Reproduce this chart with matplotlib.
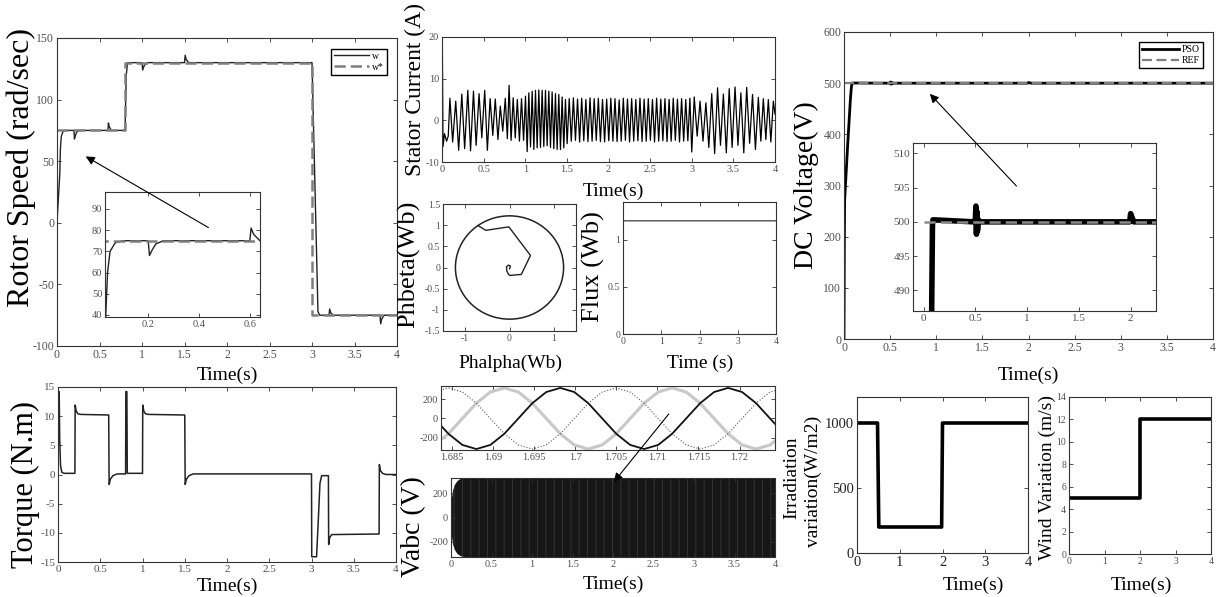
import matplotlib
matplotlib.use("Agg")
import matplotlib.pyplot as plt
import numpy as np
from matplotlib.patches import Circle
from matplotlib.ticker import FuncFormatter

plt.rcParams['font.family'] = ['Liberation Serif', 'DejaVu Serif']
plt.rcParams['hatch.linewidth'] = 0.7

# ---- rotor speed (rad/s) ----
spd_t = [0.000, 0.033, 0.040, 0.050, 0.070, 0.100, 0.200, 0.205, 0.215, 0.230, 0.260,
         0.600, 0.605, 0.615, 0.640, 0.800, 0.815, 0.830, 1.000, 1.008, 1.025, 1.060,
         1.500, 1.508, 1.520, 1.550, 3.000, 3.070, 3.090, 3.200, 3.208, 3.220, 3.250,
         3.800, 3.808, 3.820, 3.850, 4.000]
spd_w = [0, 40, 60, 70, 74, 75, 75, 68, 70.5, 73.5, 75,
         75, 81, 78, 75, 75, 120, 130, 130, 124, 127.5, 130,
         130, 136, 132.5, 130, 130, -72, -75, -75, -70, -73, -75,
         -75, -82, -78, -75, -75]
ref_t = [0, 0.8, 0.8, 3.0, 3.0, 4.0]
ref_w = [75, 75, 130, 130, -75, -75]

# ---- stator current (A), extrema read per time region ----
curA_t = [0.000, 0.004, 0.012, 0.030, 0.055, 0.075]
curA_i = [0.0, 19.0, -6.3, -3.2, -5.0, -3.8]
curB_t = [0.095, 0.128, 0.165, 0.200, 0.238, 0.272, 0.310, 0.343, 0.378, 0.410,
          0.445, 0.478, 0.513, 0.545, 0.578]
curB_i = [5.3, -5.2, 4.6, -7.2, 6.3, -6.8, 7.2, -7.3, 7.0, -6.0,
          6.4, -4.2, 7.2, -7.2, 5.2]
curC_t = [0.610, 0.640, 0.672, 0.700, 0.730, 0.760, 0.785, 0.806, 0.830, 0.855,
          0.880, 0.905, 0.930, 0.955, 0.980]
curC_i = [-3.6, 5.1, -4.6, 3.4, -2.6, 5.3, -4.4, 8.4, -4.8, 5.4,
          -4.2, 5.0, -5.0, 5.2, -4.8]
curD_t = [1.003, 1.023, 1.043, 1.063, 1.083, 1.103, 1.123, 1.143, 1.163, 1.183,
          1.203, 1.223, 1.243, 1.263, 1.283, 1.303, 1.323, 1.343, 1.363, 1.383,
          1.403, 1.423, 1.443, 1.463, 1.483, 1.503]
curD_i = [5.8, -7.5, 6.6, -6.4, 7.0, -7.0, 7.2, -6.6, 7.3, -6.5,
          7.2, -6.3, 7.2, -6.1, 7.0, -6.5, 6.8, -6.8, 6.4, -7.0,
          6.2, -7.0, 5.6, -6.6, 5.0, -5.6]
curE_t = [1.528, 1.553, 1.578, 1.603, 1.628, 1.653, 1.678, 1.703, 1.728, 1.753,
          1.778, 1.803, 1.828, 1.853, 1.878, 1.903, 1.928, 1.953, 1.978, 2.003,
          2.028, 2.053, 2.078, 2.103, 2.128, 2.153, 2.178, 2.203, 2.228, 2.253,
          2.278, 2.303, 2.328, 2.353, 2.378, 2.403, 2.428, 2.453, 2.478, 2.503,
          2.528, 2.553, 2.578, 2.603, 2.628, 2.653, 2.678, 2.703, 2.728, 2.753,
          2.778, 2.803, 2.828, 2.853, 2.878, 2.903, 2.928, 2.953, 2.978]
curE_i = [5.2, -5.0, 5.4, -4.8, 5.1, -5.2, 5.3, -4.9, 5.0, -5.1,
          5.4, -5.0, 5.2, -4.8, 5.3, -5.1, 5.0, -5.2, 5.1, -4.9,
          5.3, -5.0, 5.2, -5.1, 4.9, -5.0, 5.3, -4.8, 5.1, -5.2,
          5.2, -5.0, 5.0, -4.9, 5.3, -5.1, 5.1, -5.0, 5.2, -4.8,
          5.0, -5.2, 5.3, -5.0, 5.1, -4.9, 5.2, -5.1, 5.0, -5.0,
          5.3, -4.8, 5.1, -5.2, 5.2, -5.0, 5.0, -4.9, 5.3]
curF_t = [3.000, 3.030, 3.065, 3.100, 3.135, 3.170, 3.205, 3.240, 3.275, 3.310,
          3.345, 3.380, 3.415, 3.450, 3.485, 3.520, 3.555, 3.590, 3.625, 3.660,
          3.695, 3.730, 3.765, 3.800, 3.830, 3.860, 3.890, 3.920, 3.950, 3.980, 4.000]
curF_i = [-7.6, 5.6, -3.8, 4.6, -5.0, 4.2, -6.5, 6.4, -8.0, 7.8,
          -6.0, 6.3, -7.8, 7.6, -6.5, 8.0, -6.0, 6.6, -7.8, 7.9,
          -5.5, 6.2, -7.0, 5.5, -5.0, 5.2, -4.6, 5.0, -5.2, 4.6, 1.5]

# ---- stator flux trajectory (Wb) ----
ph_alpha = [0.0, 0.023, -0.023, -0.069, -0.061, -0.023, 0.015, 0.267, 0.473, -0.015, -0.534, -0.71]
ph_beta = [-0.03, 0.033, 0.057, 0.016, -0.081, -0.163, -0.187, -0.163, 0.285, 0.96, 0.878, 0.99]
flux_radius = 1.22
flux_t = [0.0, 0.002, 4.0]
flux_v = [0.0, 1.2, 1.2]

# ---- DC link voltage (V) ----
dc_t = [0.000, 0.004, 0.007, 0.040, 0.070, 0.078, 0.085, 0.090, 0.490, 0.500, 0.505,
        0.510, 0.515, 0.520, 0.530, 0.540, 1.990, 2.000, 2.010, 2.030, 4.000]
dc_v = [0, 200, 272, 380, 470, 488, 499.5, 500.3, 500, 500.5, 502.3,
        498.2, 501.5, 498.7, 500.3, 500, 500, 501.2, 500.8, 500, 500]
dcref_t = [0, 4]
dcref_v = [500, 500]

# ---- electromagnetic torque (N.m) ----
tq_t = [0.000, 0.008, 0.014, 0.020, 0.030, 0.045, 0.070, 0.200, 0.203, 0.215, 0.235, 0.270,
        0.600, 0.605, 0.620, 0.650, 0.700, 0.800, 0.803, 0.815, 0.820, 1.000, 1.003, 1.015,
        1.035, 1.070, 1.500, 1.505, 1.520, 1.550, 1.600, 3.000, 3.003, 3.060, 3.080, 3.100,
        3.120, 3.200, 3.203, 3.215, 3.240, 3.800, 3.803, 3.815, 3.840, 3.880, 4.000]
tq_v = [0.0, 14.2, 14.2, 6.0, 1.5, 0.4, 0.2, 0.2, 11.9, 10.9, 10.4, 10.3,
        10.2, -1.7, -0.8, -0.2, 0.1, 0.1, 14.2, 14.2, 0.2, 0.2, 11.9, 10.9,
        10.4, 10.3, 10.2, -1.7, -0.8, -0.2, 0.1, 0.1, -14.1, -14.1, -8.0, -1.5,
        -0.2, -0.2, -12.0, -10.8, -10.3, -10.2, 1.7, 0.7, 0.2, 0.0, 0.0]

# ---- three-phase voltage, zoomed window (V) ----
vz_t = [1.6829, 1.6846, 1.6863, 1.6880, 1.6897, 1.6914, 1.6931, 1.6948, 1.6965, 1.6982,
        1.6999, 1.7016, 1.7033, 1.7050, 1.7067, 1.7084, 1.7101, 1.7118, 1.7135, 1.7152,
        1.7169, 1.7186, 1.7203, 1.7220, 1.7237, 1.7254]
va = [0, -160, -277, -320, -277, -160, 0, 160, 277, 320, 277, 160, 0,
      -160, -277, -320, -277, -160, 0, 160, 277, 320, 277, 160, 0, -160]
vb = [-277, -160, 0, 160, 277, 320, 277, 160, 0, -160, -277, -320, -277,
      -160, 0, 160, 277, 320, 277, 160, 0, -160, -277, -320, -277, -160]
vc = [277, 320, 277, 160, 0, -160, -277, -320, -277, -160, 0, 160, 277,
      320, 277, 160, 0, -160, -277, -320, -277, -160, 0, 160, 277, 320]
# full-run voltage envelope (dense 50 Hz carrier renders as a solid block)
venv_t = [0.000, 0.010, 0.025, 0.050, 0.080, 0.120, 0.160, 4.000]
venv_v = [60, 150, 220, 270, 300, 318, 325, 325]

# ---- irradiation and wind profiles ----
irr_t = [0, 0.48, 0.51, 1.98, 2.0, 4.0]
irr_v = [1000, 1000, 200, 200, 1000, 1000]
wind_t = [0, 2, 2, 4]
wind_v = [5, 5, 12, 12]

W, H = 1219, 597
fmt = FuncFormatter(lambda v, p: f"{v:g}")


def px_box(l, t, r, b):
    return [l / W, 1 - b / H, (r - l) / W, (b - t) / H]


def style(ax, size, lc="#505050"):
    ax.tick_params(direction="in", top=True, right=True, length=3, width=0.6,
                   color="#333333", labelsize=size, labelcolor=lc, pad=2)
    for s in ax.spines.values():
        s.set_linewidth(0.8)
        s.set_color("#333333")
    ax.xaxis.set_major_formatter(fmt)
    ax.yaxis.set_major_formatter(fmt)


def label(fig, x, y, s, size, rot=0):
    fig.text(x / W, 1 - y / H, s, ha="center", va="center", rotation=rot, fontsize=size)


fig = plt.figure(figsize=(W / 100, H / 100), dpi=100, facecolor="white")
dash = (0, (4.5, 2))

# rotor speed
ax = fig.add_axes(px_box(57, 38, 397, 346))
ax.plot(spd_t, spd_w, color="#222222", lw=1.0, label="w")
ax.plot(ref_t, ref_w, color="#7f7f7f", lw=1.8, ls=dash, label="w*")
ax.set_xlim(0, 4)
ax.set_ylim(-100, 150)
ax.set_xticks(np.arange(0, 4.01, 0.5))
ax.set_yticks(np.arange(-100, 151, 50))
style(ax, 8.5)
ax.legend(loc="upper right", bbox_to_anchor=(0.97, 0.965), borderaxespad=0, fontsize=7,
          handlelength=3.6, fancybox=False, edgecolor="black", framealpha=1,
          borderpad=0.3, labelspacing=0.2, handletextpad=0.3)
axi = fig.add_axes(px_box(105, 192, 260, 317))
axi.plot(spd_t, spd_w, color="#222222", lw=1.0)
axi.plot(ref_t, ref_w, color="#7f7f7f", lw=1.8, ls=dash)
axi.set_xlim(0.03, 0.64)
axi.set_ylim(39, 98)
axi.set_xticks([0.2, 0.4, 0.6])
axi.set_yticks(np.arange(40, 91, 10))
style(axi, 7.5)
axi.annotate("", xy=(0.31, 55), xycoords=ax.transData, xytext=(1.81, -5),
             textcoords=ax.transData,
             arrowprops=dict(arrowstyle="-|>", color="black", lw=0.8, mutation_scale=13))
label(fig, 21, 167, "Rotor Speed (rad/sec)", 23, 90)
label(fig, 227, 375, "Time(s)", 14)

# stator current
ax = fig.add_axes(px_box(442, 37, 775, 162))
cur_t = np.concatenate([curA_t, curB_t, curC_t, curD_t, curE_t, curF_t])
cur_i = np.concatenate([curA_i, curB_i, curC_i, curD_i, curE_i, curF_i])
ax.plot(cur_t, cur_i, color="black", lw=0.9)
ax.set_xlim(0, 4)
ax.set_ylim(-10, 20)
ax.set_xticks(np.arange(0, 4.01, 0.5))
ax.set_yticks([-10, 0, 10, 20])
style(ax, 7.5)
label(fig, 415, 90, "Stator Current (A)", 17, 90)
label(fig, 613, 191, "Time(s)", 14)

# flux circle
ax = fig.add_axes(px_box(443, 204, 576, 331))
ax.add_patch(Circle((0, 0), flux_radius, fill=False, color="#222222", lw=1.1))
ax.plot(ph_alpha, ph_beta, color="#222222", lw=1.0)
ax.set_xlim(-1.5, 1.5)
ax.set_ylim(-1.5, 1.5)
ax.set_xticks([-1, 0, 1])
ax.set_yticks(np.arange(-1.5, 1.51, 0.5))
style(ax, 7)
label(fig, 409, 264, "Phbeta(Wb)", 19, 90)
label(fig, 510, 363, "Phalpha(Wb)", 14)

# flux magnitude
ax = fig.add_axes(px_box(623, 202, 776, 334))
ax.plot(flux_t, flux_v, color="#222222", lw=0.8)
ax.set_xlim(0, 4)
ax.set_ylim(0, 1.4)
ax.set_xticks([0, 1, 2, 3, 4])
ax.set_yticks([0, 0.5, 1])
style(ax, 7)
label(fig, 593, 267, "Flux (Wb)", 19, 90)
label(fig, 700, 363, "Time (s)", 14)

# DC voltage
ax = fig.add_axes(px_box(844, 32, 1213, 339))
ax.plot(dc_t, dc_v, color="black", lw=2.0, label="PSO")
ax.plot(dcref_t, dcref_v, color="#7f7f7f", lw=1.6, ls=dash, label="REF")
ax.set_xlim(0, 4)
ax.set_ylim(0, 600)
ax.set_xticks(np.arange(0, 4.01, 0.5))
ax.set_yticks(np.arange(0, 601, 100))
style(ax, 8.5)
ax.legend(loc="upper right", bbox_to_anchor=(0.973, 0.967), borderaxespad=0, fontsize=7,
          handlelength=3.8, fancybox=False, edgecolor="black", framealpha=1,
          borderpad=0.3, labelspacing=0.2, handletextpad=0.3)
axi = fig.add_axes(px_box(913, 143, 1156, 311))
axi.plot(dc_t, dc_v, color="black", lw=4.0)
axi.plot(dcref_t, dcref_v, color="#8a8a8a", lw=1.8, ls=dash)
axi.set_xlim(-0.103, 2.245)
axi.set_ylim(487, 511.5)
axi.set_xticks([0, 0.5, 1, 1.5, 2])
axi.set_yticks([490, 495, 500, 505, 510])
style(axi, 8)
axi.annotate("", xy=(0.91, 483), xycoords=ax.transData, xytext=(1.89, 295),
             textcoords=ax.transData,
             arrowprops=dict(arrowstyle="-|>", color="black", lw=0.8, mutation_scale=13))
label(fig, 806, 185, "DC Voltage(V)", 20, 90)
label(fig, 1028, 375, "Time(s)", 14)

# torque
ax = fig.add_axes(px_box(58, 387, 396, 562))
ax.plot(tq_t, tq_v, color="#222222", lw=1.1)
ax.set_xlim(0, 4)
ax.set_ylim(-15, 15)
ax.set_xticks(np.arange(0, 4.01, 0.5))
ax.set_yticks(np.arange(-15, 16, 5))
style(ax, 8)
label(fig, 25, 485, "Torque (N.m)", 22, 90)
label(fig, 227, 586, "Time(s)", 14)

# three-phase voltage: zoomed window
axz = fig.add_axes(px_box(441, 386, 775, 450))
axz.plot(vz_t, vb, color="#c8c8c8", lw=2.2)
axz.plot(vz_t, vc, color="#5a5a5a", lw=0.8, ls=":")
axz.plot(vz_t, va, color="#111111", lw=1.3)
axz.set_xlim(1.6837, 1.7243)
axz.set_ylim(-330, 340)
axz.set_xticks([1.685, 1.69, 1.695, 1.7, 1.705, 1.71, 1.715, 1.72])
axz.set_yticks([-200, 0, 200])
style(axz, 7.5)

# three-phase voltage: full run
ax = fig.add_axes(px_box(451, 478, 775, 557))
ax.fill_between(venv_t, -np.array(venv_v), venv_v, facecolor="#161616",
                edgecolor="#333333", hatch="||", lw=0)
ax.set_xlim(0, 4)
ax.set_ylim(-325, 325)
ax.set_xticks(np.arange(0, 4.01, 0.5))
ax.set_yticks([-200, 0, 200])
style(ax, 7.5)
ax.annotate("", xy=(1.99, 275), xycoords=ax.transData, xytext=(1.7116, 70),
            textcoords=axz.transData,
            arrowprops=dict(arrowstyle="-|>", color="black", lw=0.8, mutation_scale=13))
label(fig, 414, 527, "Vabc (V)", 20, 90)
label(fig, 613, 584, "Time(s)", 14)

# irradiation
ax = fig.add_axes(px_box(857, 397, 1028, 553))
ax.plot(irr_t, irr_v, color="black", lw=2.6)
ax.set_xlim(0, 4)
ax.set_ylim(0, 1200)
ax.set_xticks([0, 1, 2, 3, 4])
ax.set_yticks([0, 500, 1000])
style(ax, 10.5, lc="#222222")
label(fig, 792, 478, "Irradiation", 14, 90)
label(fig, 813, 481, "variation(W/m2)", 14, 90)
label(fig, 973, 585, "Time(s)", 14)

# wind
ax = fig.add_axes(px_box(1069, 397, 1211, 554))
ax.plot(wind_t, wind_v, color="black", lw=2.6)
ax.set_xlim(0, 4)
ax.set_ylim(0, 14)
ax.set_xticks([0, 1, 2, 3, 4])
ax.set_yticks(np.arange(0, 15, 2))
style(ax, 7)
label(fig, 1047, 478, "Wind Variation (m/s)", 14, 90)
label(fig, 1141, 585, "Time(s)", 14)

fig.savefig("out.png", dpi=100, facecolor="white")
